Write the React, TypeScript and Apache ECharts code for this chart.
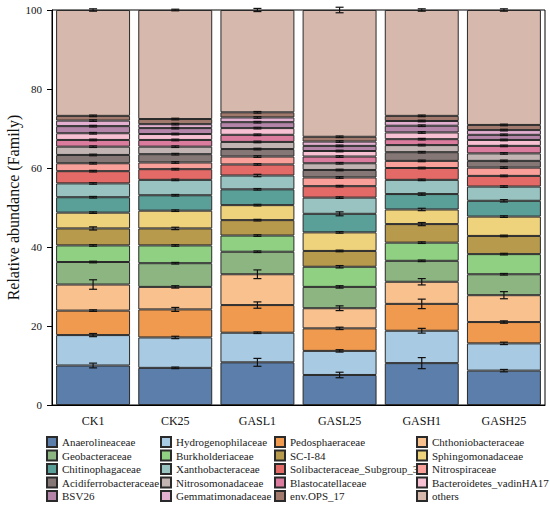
import React, { useEffect, useRef } from "react";
import * as echarts from "echarts";

const categories = ["CK1", "CK25", "GASL1", "GASL25", "GASH1", "GASH25"];
const yTicks = [0, 20, 40, 60, 80, 100];

const families = [
  "Anaerolineaceae", "Hydrogenophilaceae", "Pedosphaeraceae", "Chthoniobacteraceae",
  "Geobacteraceae", "Burkholderiaceae", "SC-I-84", "Sphingomonadaceae",
  "Chitinophagaceae", "Xanthobacteraceae", "Solibacteraceae_Subgroup_3", "Nitrospiraceae",
  "Acidiferrobacteraceae", "Nitrosomonadaceae", "Blastocatellaceae", "Bacteroidetes_vadinHA17",
  "BSV26", "Gemmatimonadaceae", "env.OPS_17", "others",
];

const colors = [
  "#5b7faa", "#a8cae3", "#ef9a4f", "#f8c18e",
  "#8db582", "#8fd083", "#b89a4c", "#efd27c",
  "#5a9f98", "#98c3c0", "#e36a66", "#f8a099",
  "#857776", "#c1b4b2", "#db7b9d", "#f7c0d3",
  "#b585a9", "#e3b0d2", "#a27a6d", "#d7b8ac",
];

// values per family, in category order
const anaerolineaceae = [10.0, 9.4, 10.8, 7.6, 10.6, 8.7];
const hydrogenophilaceae = [7.7, 7.7, 7.5, 6.1, 8.2, 6.9];
const pedosphaeraceae = [6.2, 7.1, 7.0, 5.7, 6.8, 5.4];
const chthoniobacteraceae = [6.6, 5.7, 7.8, 5.1, 5.6, 6.8];
const geobacteraceae = [5.7, 6.0, 5.7, 5.4, 5.3, 5.3];
const burkholderiaceae = [4.2, 4.5, 4.1, 5.1, 4.6, 5.1];
const scI84 = [4.3, 4.3, 3.9, 4.0, 4.7, 4.6];
const sphingomonadaceae = [4.0, 4.5, 3.8, 4.7, 3.7, 4.9];
const chitinophagaceae = [3.9, 3.9, 4.0, 4.7, 3.9, 4.0];
const xanthobacteraceae = [3.5, 3.9, 3.5, 4.1, 3.6, 3.6];
const solibacteraceae = [3.1, 2.7, 2.8, 2.9, 3.0, 2.7];
const nitrospiraceae = [2.0, 1.7, 2.0, 2.2, 1.8, 2.1];
const acidiferrobacteraceae = [2.1, 2.1, 1.9, 1.9, 2.2, 1.7];
const nitrosomonadaceae = [2.1, 1.9, 1.8, 1.7, 1.8, 1.9];
const blastocatellaceae = [1.7, 1.7, 1.8, 1.7, 1.5, 1.9];
const bacteroidetes = [1.7, 1.5, 1.7, 1.4, 1.7, 1.5];
const bsv26 = [1.8, 1.5, 1.5, 1.3, 1.7, 1.3];
const gemmatimonadaceae = [1.4, 1.0, 1.2, 1.1, 1.2, 1.2];
const envOPS17 = [1.2, 1.3, 1.3, 1.2, 1.3, 1.3];
const others = [26.8, 27.6, 25.9, 32.1, 26.8, 29.1];

// error (SD) per family
const errAnaerolineaceae = [0.6, 0.2, 1.0, 0.7, 1.4, 0.3];
const errHydrogenophilaceae = [0.4, 0.3, 0.2, 0.3, 0.6, 0.3];
const errPedosphaeraceae = [0.2, 0.5, 0.8, 0.3, 1.2, 0.3];
const errChthoniobacteraceae = [1.2, 0.3, 1.1, 0.6, 0.8, 0.9];
const errGeobacteraceae = [0.2, 0.2, 0.2, 0.3, 0.2, 0.2];
const errBurkholderiaceae = [0.2, 0.2, 0.2, 0.3, 0.2, 0.2];
const errScI84 = [0.4, 0.3, 0.2, 0.2, 0.4, 0.2];
const errSphingomonadaceae = [0.2, 0.2, 0.2, 0.2, 0.3, 0.2];
const errChitinophagaceae = [0.2, 0.2, 0.2, 0.5, 0.3, 0.3];
const errXanthobacteraceae = [0.2, 0.2, 0.3, 0.2, 0.2, 0.2];
const errSolibacteraceae = [0.2, 0.2, 0.2, 0.2, 0.2, 0.2];
const errNitrospiraceae = [0.2, 0.2, 0.2, 0.2, 0.2, 0.2];
const errAcidiferrobacteraceae = [0.2, 0.2, 0.2, 0.2, 0.2, 0.2];
const errNitrosomonadaceae = [0.2, 0.2, 0.2, 0.2, 0.2, 0.2];
const errBlastocatellaceae = [0.2, 0.2, 0.2, 0.2, 0.2, 0.2];
const errBacteroidetes = [0.2, 0.2, 0.2, 0.2, 0.2, 0.2];
const errBsv26 = [0.2, 0.2, 0.2, 0.2, 0.2, 0.2];
const errGemmatimonadaceae = [0.2, 0.2, 0.2, 0.2, 0.2, 0.2];
const errEnvOPS17 = [0.2, 0.2, 0.2, 0.2, 0.2, 0.2];
const errOthers = [0.3, 0.2, 0.4, 0.7, 0.3, 0.3];

const values = [
  anaerolineaceae, hydrogenophilaceae, pedosphaeraceae, chthoniobacteraceae,
  geobacteraceae, burkholderiaceae, scI84, sphingomonadaceae,
  chitinophagaceae, xanthobacteraceae, solibacteraceae, nitrospiraceae,
  acidiferrobacteraceae, nitrosomonadaceae, blastocatellaceae, bacteroidetes,
  bsv26, gemmatimonadaceae, envOPS17, others,
];
const errors = [
  errAnaerolineaceae, errHydrogenophilaceae, errPedosphaeraceae, errChthoniobacteraceae,
  errGeobacteraceae, errBurkholderiaceae, errScI84, errSphingomonadaceae,
  errChitinophagaceae, errXanthobacteraceae, errSolibacteraceae, errNitrospiraceae,
  errAcidiferrobacteraceae, errNitrosomonadaceae, errBlastocatellaceae, errBacteroidetes,
  errBsv26, errGemmatimonadaceae, errEnvOPS17, errOthers,
];

const FONT = "'Liberation Serif', 'Times New Roman', serif";

export default function App() {
  const ref = useRef<HTMLDivElement>(null);
  useEffect(() => {
    if (!ref.current) return;
    const chart = echarts.init(ref.current, undefined, { renderer: "svg" });

    const errData: number[][] = [];
    const cum = categories.map(() => 0);
    values.forEach((arr, fi) => {
      arr.forEach((v, ci) => {
        cum[ci] += v;
        errData.push([ci, cum[ci], errors[fi][ci]]);
      });
    });

    const barSeries = families.map((name, i) => ({
      type: "bar",
      name,
      stack: "total",
      data: values[i],
      barCategoryGap: "10%",
      itemStyle: { color: colors[i], borderColor: "#2a2a2a", borderWidth: 1 },
    }));

    const columns = [0, 1, 2, 3].map((c) => families.filter((_, i) => i % 4 === c));
    const legendLefts = [46, 160, 274, 416];

    const option = {
      animation: false,
      textStyle: { fontFamily: FONT },
      grid: {
        left: 52, right: 5, top: 10, bottom: 100,
        outerBoundsMode: "none",
        containLabel: false,
        show: true, borderColor: "#000", borderWidth: 1, backgroundColor: "transparent",
      },
      legend: columns.map((col, c) => ({
        orient: "vertical",
        left: legendLefts[c],
        top: 436,
        data: col,
        icon: "rect",
        itemWidth: 10,
        itemHeight: 10,
        itemGap: 1.5,
        padding: 0,
        selectedMode: false,
        textStyle: { fontFamily: FONT, fontSize: 11, color: "#222", lineHeight: 12 },
      })),
      xAxis: {
        type: "category",
        data: categories,
        axisLine: { lineStyle: { color: "#000", width: 1 } },
        axisTick: { alignWithLabel: true, length: 5, lineStyle: { color: "#000" } },
        axisLabel: { fontFamily: FONT, fontSize: 12, color: "#111", margin: 10 },
      },
      yAxis: {
        type: "value",
        min: yTicks[0],
        max: yTicks[yTicks.length - 1],
        interval: 20,
        name: "Relative abundance (Family)",
        nameLocation: "middle",
        nameGap: 31,
        nameMoveOverlap: false,
        nameTextStyle: { fontFamily: FONT, fontSize: 16, color: "#111" },
        splitLine: { show: false },
        axisLine: { show: true, lineStyle: { color: "#000", width: 1 } },
        axisTick: { show: true, length: 5, lineStyle: { color: "#000" } },
        axisLabel: { fontFamily: FONT, fontSize: 11, color: "#111", margin: 10 },
      },
      series: [
        ...barSeries,
        {
          type: "custom",
          name: "err",
          z: 10,
          clip: false,
          data: errData,
          renderItem: (params: any, api: any) => {
            const x = api.value(0);
            const top = api.value(1);
            const e = api.value(2);
            const hi = api.coord([x, top + e]);
            const lo = api.coord([x, top - e]);
            const cx = hi[0];
            const w = 4;
            const st = { stroke: "#111", lineWidth: 1.2 };
            return {
              type: "group",
              children: [
                { type: "line", shape: { x1: cx, y1: hi[1], x2: cx, y2: lo[1] }, style: st },
                { type: "line", shape: { x1: cx - w, y1: hi[1], x2: cx + w, y2: hi[1] }, style: st },
                { type: "line", shape: { x1: cx - w, y1: lo[1], x2: cx + w, y2: lo[1] }, style: st },
              ],
            };
          },
        },
      ],
    };
    chart.setOption(option as any);
    return () => chart.dispose();
  }, []);

  return (
    <div
      ref={ref}
      style={{ position: "fixed", left: 0, top: 0, width: 550, height: 505, background: "#fff" }}
    />
  );
}
